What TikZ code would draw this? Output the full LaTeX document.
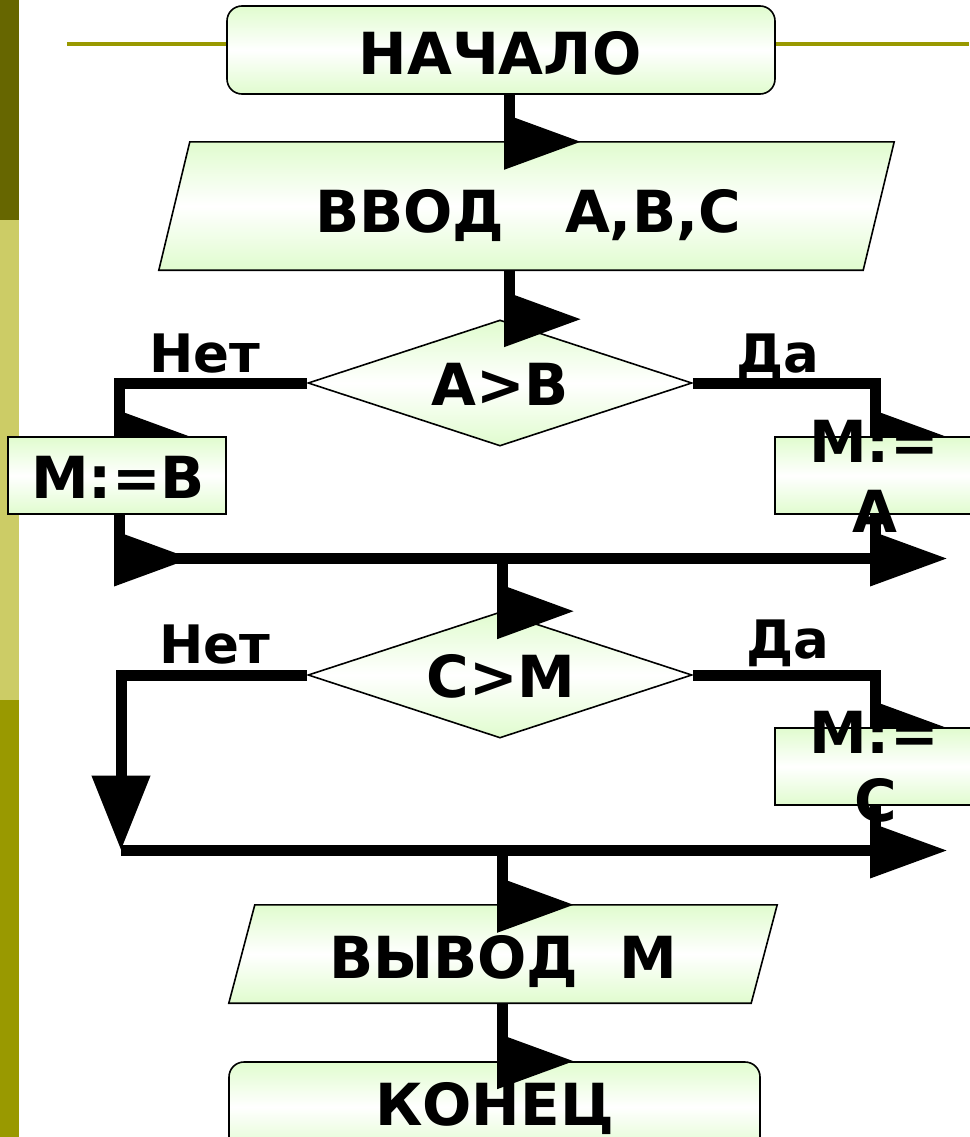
\documentclass[tikz,border=0pt]{standalone}
\usepackage{fontspec}
\setmainfont{DejaVu Sans}
\usetikzlibrary{shapes.geometric,calc,arrows.meta}
\definecolor{barA}{RGB}{102,102,0}
\definecolor{barB}{RGB}{204,204,102}
\definecolor{barC}{RGB}{153,153,0}
\definecolor{lg}{RGB}{224,252,206}
\begin{document}
\begin{tikzpicture}[x=1pt,y=-1pt,
  conn/.style={line width=11pt, line join=miter},
  shapeline/.style={draw=black, line width=1.6pt},
  grad/.style={top color=lg, bottom color=lg, middle color=white},
  big/.style={font=\bfseries\fontsize{58}{58}\selectfont, inner sep=0pt, anchor=base},
  lbl/.style={font=\bfseries\fontsize{53}{53}\selectfont, inner sep=0pt, anchor=base},
  flagtip/.pic={\fill[black] (-5.5,-28) -- (71,0) -- (-5.5,28) -- cycle;}
]
\useasboundingbox (0,0) rectangle (969,1137);
\fill[white] (0,0) rectangle (969,1137);
% side bars and top rule
\fill[barA] (0,0) rectangle (19,220);
\fill[barB] (0,220) rectangle (19,700);
\fill[barC] (0,700) rectangle (19,1137);
\draw[barC, line width=3.5pt] (67,44) -- (969,44);

% axes for connectors
\coordinate (ax1) at (509.5,0);
\coordinate (axL) at (119.5,0);
\coordinate (axR) at (875.5,0);
\coordinate (j1) at (502.5,558.5);
\coordinate (j2) at (502.5,850.5);
\coordinate (m2) at (121,850.5);

% main shapes
\node[shapeline, grad, rounded corners=15pt, minimum width=548pt, minimum height=88pt, inner sep=0pt] (start) at (501,50) {};
\node[minimum width=735pt, minimum height=128pt, inner sep=0pt] (in) at (526.5,206) {};
\path[shapeline, grad] ($(in.north west)+(31,0)$) -- (in.north east) -- ($(in.south east)+(-31,0)$) -- (in.south west) -- cycle;
\node[diamond, shapeline, grad, minimum width=384pt, minimum height=126pt, inner sep=0pt] (dA) at (500,383) {};
\node[diamond, shapeline, grad, minimum width=384pt, minimum height=126pt, inner sep=0pt] (dC) at (500,675) {};
\node[minimum width=548pt, minimum height=98pt, inner sep=0pt] (out) at (503,954) {};
\path[shapeline, grad] ($(out.north west)+(26,0)$) -- (out.north east) -- ($(out.south east)+(-26,0)$) -- (out.south west) -- cycle;
\node[shapeline, grad, rounded corners=15pt, minimum width=531pt, minimum height=90pt, inner sep=0pt] (end) at (494.5,1107) {};

% connectors
\draw[conn] (start.south -| ax1) -- (in.north -| ax1);
\pic at (in.north -| ax1) {flagtip};
\draw[conn] (in.south -| ax1) -- (dA.north -| ax1);
\pic at (dA.north -| ax1) {flagtip};

\node[minimum width=218pt, minimum height=77pt, inner sep=0pt] (pB) at (117,475.5) {};
\node[minimum width=200pt, minimum height=77pt, inner sep=0pt] (pA) at (875,475.5) {};
\node[minimum width=200pt, minimum height=77pt, inner sep=0pt] (pC) at (875,766.5) {};

\draw[conn] (dA.west) -| (pB.north -| axL);
\pic at (pB.north -| axL) {flagtip};
\draw[conn] (dA.east) -| (pA.north -| axR);
\pic at (pA.north -| axR) {flagtip};

\draw[conn] (pB.south -| axL) |- (j1);
\draw[conn] (pA.south -| axR) |- (j1);
\pic at (j1 -| axL) {flagtip};
\pic at (j1 -| axR) {flagtip};
\draw[conn] (j1) -- (dC.north -| j1);
\pic at (dC.north -| j1) {flagtip};

\draw[conn, -{Triangle[width=56pt,length=75pt]}] (dC.west) -| (m2);
\draw[conn] (dC.east) -| (pC.north -| axR);
\pic at (pC.north -| axR) {flagtip};
\draw[conn] (pC.south -| axR) |- (j2);
\draw[conn] (m2) -- (j2);
\pic at (j2 -| axR) {flagtip};
\draw[conn] (j2) -- (out.north -| j2);
\pic at (out.north -| j2) {flagtip};
\draw[conn] (out.south -| j2) -- (end.north -| j2);
\pic at (end.north -| j2) {flagtip};

% process boxes over their arrows
\path[shapeline, grad] (pB.north west) rectangle (pB.south east);
\path[shapeline, grad] (pA.north west) rectangle (pA.south east);
\path[shapeline, grad] (pC.north west) rectangle (pC.south east);

% texts
\node[big] (tStart) at (500,75) {НАЧАЛО};
\node[big] (tIn) at (528,232) {ВВОД~~~А,В,С};
\node[big] (tA) at (500,405) {A>B};
\node[big] (tB) at (118,498) {M:=B};
\node[big] (tA1) at (874,462) {M:=};
\node[big] (tA2) at (875,532) {A};
\node[big] (tC) at (501,697) {C>M};
\node[big] (tC1) at (874,753) {M:=};
\node[big] (tC2) at (876,821) {C};
\node[big] (tOut) at (503,978) {ВЫВОД~~М};
\node[big] (tEnd) at (494.5,1125) {КОНЕЦ};
\node[lbl] (no1) at (205,372) {Нет};
\node[lbl] (yes1) at (778,372) {Да};
\node[lbl] (no2) at (215,663) {Нет};
\node[lbl] (yes2) at (788,658) {Да};
\end{tikzpicture}
\end{document}
